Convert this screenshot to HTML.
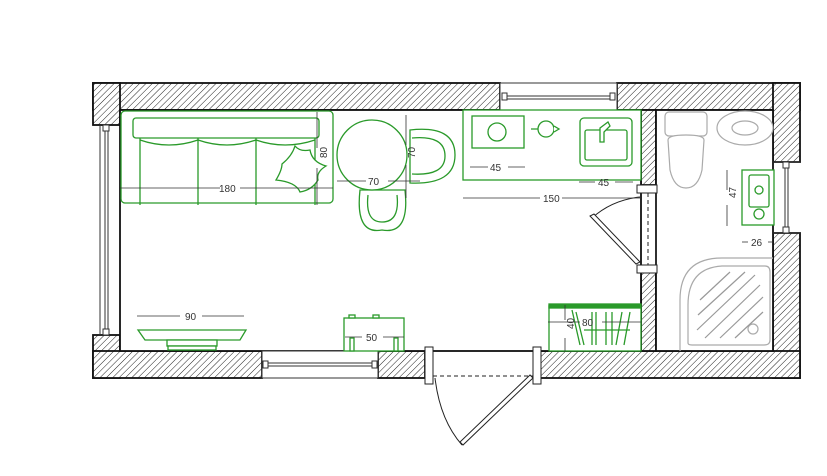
<!DOCTYPE html>
<html><head><meta charset="utf-8"><style>
html,body{margin:0;padding:0;background:#fff;width:827px;height:476px;overflow:hidden}
svg{display:block}
text{font-family:"Liberation Sans",sans-serif;font-size:10px;fill:#333}
</style></head><body>
<svg width="827" height="476" viewBox="0 0 827 476" xmlns="http://www.w3.org/2000/svg">
<defs>
<pattern id="h" patternUnits="userSpaceOnUse" width="4.5" height="4.5" patternTransform="rotate(45)">
<rect width="4.5" height="4.5" fill="#fff"/><line x1="0" y1="0" x2="0" y2="4.5" stroke="#222" stroke-width="1"/>
</pattern>
</defs>
<g stroke="#111" stroke-width="1.8" fill="url(#h)">
<rect x="93" y="83" width="407" height="27"/>
<rect x="617" y="83" width="183" height="27"/>
<rect x="93" y="83" width="27" height="42"/>
<rect x="93" y="335" width="27" height="43"/>
<rect x="773" y="83" width="27" height="79"/>
<rect x="773" y="233" width="27" height="145"/>
<rect x="93" y="351" width="169" height="27"/>
<rect x="378" y="351" width="47" height="27"/>
<rect x="540" y="351" width="260" height="27"/>
<rect x="641" y="110" width="15" height="75"/>
<rect x="641" y="270" width="15" height="81"/>
</g>
<rect x="120" y="110" width="521" height="241" fill="#fff" stroke="#111" stroke-width="1.8"/>
<rect x="656" y="110" width="117" height="241" fill="#fff" stroke="#111" stroke-width="1.8"/>
<g stroke="#333" stroke-width="1" fill="#fff">
<rect x="500" y="83" width="117" height="27"/>
<line x1="505" y1="96" x2="612" y2="96"/><line x1="505" y1="99" x2="612" y2="99"/>
<rect x="502" y="93" width="5" height="7"/><rect x="610" y="93" width="5" height="7"/>
<rect x="262" y="351" width="116" height="27"/>
<line x1="266" y1="363" x2="374" y2="363"/><line x1="266" y1="366" x2="374" y2="366"/>
<rect x="263" y="361" width="5" height="7"/><rect x="372" y="361" width="5" height="7"/>
<line x1="100" y1="125" x2="100" y2="335"/><line x1="105" y1="130" x2="105" y2="330"/><line x1="108" y1="130" x2="108" y2="330"/>
<rect x="103" y="125" width="6" height="6"/><rect x="103" y="329" width="6" height="6"/>
<line x1="773" y1="162" x2="800" y2="162"/><line x1="773" y1="233" x2="800" y2="233"/>
<line x1="785" y1="165" x2="785" y2="230"/><line x1="788" y1="165" x2="788" y2="230"/>
<rect x="783" y="162" width="6" height="6"/><rect x="783" y="227" width="6" height="6"/>
</g>
<g stroke="#222" stroke-width="1" fill="#fff">
<rect x="425" y="347" width="8" height="37"/><rect x="533" y="347" width="8" height="37"/>
<line x1="433" y1="376" x2="533" y2="376" stroke-dasharray="4,3"/>
<path d="M435 378 Q440 420 462 445" fill="none"/>
<path d="M530 375 L460 442 L463 445 L533 378 Z"/>
<rect x="637" y="185" width="20" height="8"/><rect x="637" y="265" width="20" height="8"/>
<line x1="648" y1="193" x2="648" y2="265" stroke-dasharray="4,3"/>
<line x1="656" y1="193" x2="656" y2="265"/>
<path d="M640 197 Q612 200 592 218" fill="none"/>
<path d="M590 216 L636 264 L640 262 L594 214 Z"/>
</g>
<g stroke="#aaa" stroke-width="1.2" fill="#fff">
<rect x="665" y="112" width="42" height="24" rx="4"/>
<path d="M668 140 Q668 135 686 135 Q704 135 704 140 L702 170 Q698 188 686 188 Q674 188 670 170 Z"/>
<ellipse cx="745" cy="128" rx="28" ry="17"/>
<ellipse cx="745" cy="128" rx="13" ry="7"/>
<path d="M680 351 L680 300 Q680 258 722 258 L773 258"/>
<path d="M688 343 L688 305 Q688 268 722 266 L765 266 Q770 266 770 272 L770 340 Q770 345 764 345 L692 345 Q688 345 688 343 Z"/>
<circle cx="753" cy="329" r="5"/>
<g stroke="#999">
<line x1="700" y1="300" x2="730" y2="272"/><line x1="698" y1="315" x2="745" y2="272"/>
<line x1="697" y1="330" x2="755" y2="275"/><line x1="705" y1="338" x2="760" y2="285"/>
<line x1="720" y1="338" x2="763" y2="297"/><line x1="735" y1="338" x2="763" y2="312"/>
</g>
</g>
<g stroke="#2a9a2a" stroke-width="1.3" fill="#fff">
<rect x="121" y="111" width="212" height="92" rx="4"/>
<rect x="133" y="118" width="186" height="20" rx="3"/>
<path d="M140 138 L140 205 M198 138 L198 205 M256 138 L256 205 M315 138 L315 205"/>
<path d="M140 140 Q169 150 198 140 Q227 150 256 140 Q285 150 315 140" fill="none"/>
<path d="M295 146 Q300 152 310 150 Q312 162 326 166 Q316 172 318 180 Q312 190 300 192 Q296 182 276 180 Q282 170 282 164 Q292 156 295 146 Z"/>
<path d="M410 130 Q455 125 455 155 Q455 185 410 183 Z"/>
<path d="M412 138 Q445 135 445 156 Q445 176 412 174"/>
<path d="M360 190 Q355 235 382 230 Q410 235 405 190 Z"/>
<path d="M368 195 Q365 222 382 222 Q400 222 397 195"/>
<circle cx="372" cy="155" r="35"/>
<rect x="463" y="110" width="178" height="70"/>
<rect x="472" y="116" width="52" height="32"/>
<circle cx="497" cy="132" r="9"/>
<circle cx="546" cy="129" r="8"/><path d="M538 129 L531 129 M554 126 L559 129 L554 132"/>
<rect x="580" y="118" width="52" height="48" rx="4"/>
<rect x="585" y="130" width="42" height="30" rx="2"/>
<path d="M600 128 L608 122 L610 126 L604 132 L604 142 L600 142 Z"/>
<rect x="742" y="170" width="32" height="55"/>
<rect x="749" y="175" width="20" height="32" rx="2"/>
<circle cx="759" cy="190" r="4"/>
<circle cx="759" cy="214" r="5"/>
<path d="M138 330 L246 330 L240 340 L145 340 Z"/>
<rect x="167" y="340" width="50" height="6"/><rect x="168" y="346" width="48" height="4"/>
<rect x="344" y="318" width="60" height="33"/>
<rect x="349" y="315" width="6" height="3"/><rect x="373" y="315" width="6" height="3"/>
<rect x="350" y="338" width="4" height="13"/><rect x="394" y="338" width="4" height="13"/>
<rect x="549" y="306" width="92" height="45"/>
<rect x="549" y="304" width="92" height="4" fill="#2a9a2a"/>
<path d="M572 310 L580 345 M576 312 L584 345 M592 312 L592 345 M596 312 L596 345 M606 312 L606 345 M612 312 L612 345 M622 312 L616 345 M630 312 L624 345 M584 330 L630 330"/>
</g>
<g stroke="#333" stroke-width="0.8">
<line x1="120" y1="188" x2="220" y2="188"/><line x1="240" y1="188" x2="333" y2="188"/>
<line x1="317" y1="112" x2="317" y2="148"/><line x1="317" y1="168" x2="317" y2="205"/>
<line x1="337" y1="181" x2="366" y2="181"/><line x1="388" y1="181" x2="420" y2="181"/>
<line x1="406" y1="115" x2="406" y2="145"/><line x1="406" y1="165" x2="406" y2="198"/>
<line x1="470" y1="167" x2="488" y2="167"/><line x1="508" y1="167" x2="525" y2="167"/>
<line x1="579" y1="182" x2="595" y2="182"/><line x1="615" y1="182" x2="633" y2="182"/>
<line x1="463" y1="198" x2="540" y2="198"/><line x1="562" y1="198" x2="641" y2="198"/>
<line x1="727" y1="170" x2="727" y2="190"/><line x1="727" y1="205" x2="727" y2="226"/>
<line x1="742" y1="242" x2="748" y2="242"/><line x1="768" y1="242" x2="773" y2="242"/>
<line x1="137" y1="316" x2="180" y2="316"/><line x1="202" y1="316" x2="244" y2="316"/>
<line x1="345" y1="337" x2="362" y2="337"/><line x1="383" y1="337" x2="404" y2="337"/>
<line x1="548" y1="322" x2="580" y2="322"/><line x1="602" y1="322" x2="641" y2="322"/>
<line x1="565" y1="305" x2="565" y2="320"/><line x1="565" y1="338" x2="565" y2="351"/>
</g>
<text x="219" y="192">180</text>
<text x="322" y="163" transform="rotate(-90 322 158)">80</text>
<text x="368" y="185">70</text>
<text x="410" y="163" transform="rotate(-90 410 158)">70</text>
<text x="490" y="171">45</text>
<text x="598" y="186">45</text>
<text x="543" y="202">150</text>
<text x="731" y="203" transform="rotate(-90 731 198)">47</text>
<text x="751" y="246">26</text>
<text x="185" y="320">90</text>
<text x="366" y="341">50</text>
<text x="582" y="326">80</text>
<text x="569" y="334" transform="rotate(-90 569 329)">40</text>
</svg>
</body></html>
